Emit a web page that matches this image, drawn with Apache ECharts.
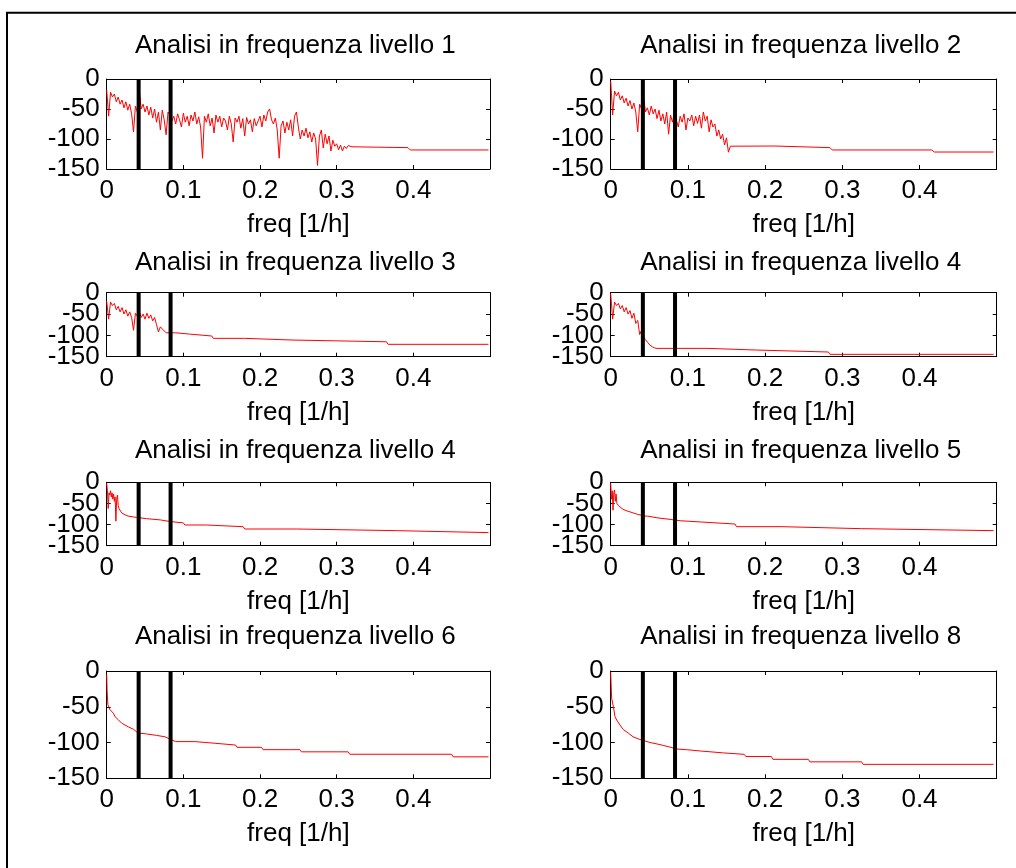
<!DOCTYPE html>
<html><head><meta charset="utf-8">
<script src="https://cdn.jsdelivr.net/npm/echarts@6/dist/echarts.min.js"></script>
<style>html,body{margin:0;padding:0;background:#fff}#c{width:1016px;height:868px}</style>
</head><body><div id="c"></div>
<script>
// ---- data ----
const titles = [
  'Analisi in frequenza livello 1', 'Analisi in frequenza livello 2',
  'Analisi in frequenza livello 3', 'Analisi in frequenza livello 4',
  'Analisi in frequenza livello 4', 'Analisi in frequenza livello 5',
  'Analisi in frequenza livello 6', 'Analisi in frequenza livello 8'
];
const xLabel = 'freq [1/h]';
const xTicks = [0, 0.1, 0.2, 0.3, 0.4];
const yTicks = [0, -50, -100, -150];
const markerFreqs = [1 / 24, 1 / 12];
const df = 0.0025; // frequency resolution of the noisy sections

const lev1Noisy = [-18,-62,-22,-30,-25,-38,-30,-42,-35,-48,-38,-52,-42,-58,-88,-45,-55,-18,-50,-42,
  -55,-45,-60,-47,-65,-50,-72,-55,-85,-52,-68,-93,-55,-60,-70,-62,-75,-58,-68,-80,
  -57,-72,-62,-78,-60,-70,-55,-75,-63,-80,-132,-62,-72,-58,-78,-65,-90,-60,-72,-62,
  -80,-65,-70,-85,-62,-75,-105,-65,-72,-62,-82,-66,-95,-64,-75,-68,-88,-66,-78,-70,
  -62,-80,-60,-70,-55,-50,-68,-75,-65,-85,-132,-78,-70,-90,-72,-85,-68,-95,-62,-55,
  -80,-100,-85,-95,-82,-98,-88,-105,-90,-100,-144,-95,-85,-115,-92,-108,-95,-120,-102,-112,
  -108,-118,-110,-120,-112,-116,-111,-114,-113];
const lev1Tail = [[0.322,-114.4],[0.393,-114.4],[0.396,-118.3],[0.498,-118.3]];

const lev2Noisy = [-3,-60,-20,-28,-22,-35,-28,-40,-32,-45,-36,-50,-40,-55,-88,-42,-50,-28,-55,-48,
  -60,-45,-58,-50,-66,-52,-70,-58,-75,-55,-92,-60,-72,-55,-68,-80,-62,-72,-58,-85,
  -65,-70,-60,-78,-62,-74,-60,-82,-55,-70,-62,-88,-68,-80,-75,-95,-85,-100,-92,-110,
  -98,-122,-112];
const lev2Tail = [[0.156,-111.7],[0.213,-111.7],[0.215,-114.4],[0.284,-114.4],[0.287,-118.3],
  [0.416,-118.3],[0.419,-121.7],[0.496,-121.7]];

const lev3Noisy = [-20,-62,-22,-30,-25,-40,-32,-45,-35,-50,-40,-55,-45,-58,-88,-48,-55,-45,-58,-50,
  -62,-48,-60,-52,-66,-58,-75,-92,-80,-85,-84,-94,-94,-94,-94];
const lev3Tail = [[0.09,-94],[0.092,-97],[0.108,-97],[0.11,-101.5],[0.137,-101.5],[0.139,-107],
  [0.18,-107],[0.182,-111],[0.243,-111],[0.245,-115],[0.365,-115],[0.367,-121],[0.498,-121]];

const lev4aNoisy = [-2,-62,-22,-30,-25,-38,-30,-45,-35,-50,-42,-60,-48,-72,-65,-98,-88,-103];
const lev4aTail = [[0.045,-110],[0.048,-117],[0.051,-123],[0.054,-127],[0.057,-129.5],[0.06,-130.5],
  [0.126,-130.5],[0.128,-134.4],[0.189,-134.4],[0.191,-139],[0.282,-139],[0.284,-144.5],[0.496,-144.5]];

const lev4bPairs = [[0,-2],[0.001,-20],[0.002,-62],[0.003,-25],[0.004,-30],[0.005,-20],[0.006,-35],
  [0.007,-25],[0.008,-40],[0.009,-28],[0.010,-45],[0.011,-35],[0.012,-92],[0.013,-40],[0.014,-30],
  [0.015,-55],[0.016,-62],[0.018,-68],[0.020,-73],[0.024,-77],[0.028,-80],[0.035,-82],[0.039,-83],
  [0.041,-85],[0.052,-86],[0.054,-89],[0.070,-89],[0.072,-93],[0.083,-93],[0.085,-96],[0.1,-96],
  [0.102,-101],[0.130,-101],[0.132,-105],[0.178,-105],[0.180,-110.5],[0.248,-110.5],[0.250,-114.4],
  [0.378,-114.4],[0.380,-119],[0.498,-119]];

const lev5Pairs = [[0,-2],[0.001,-40],[0.002,-20],[0.003,-66],[0.004,-25],[0.005,-18],[0.006,-45],
  [0.007,-28],[0.008,-50],[0.010,-55],[0.012,-59],[0.016,-64],[0.020,-67],[0.025,-70],[0.030,-73],
  [0.035,-76],[0.040,-78],[0.043,-80],[0.048,-80],[0.050,-84],[0.060,-84],[0.062,-88],[0.078,-88],
  [0.080,-91],[0.090,-91],[0.092,-94],[0.118,-94],[0.120,-98.7],[0.161,-98.7],[0.163,-105],
  [0.222,-105],[0.224,-109.7],[0.325,-109.7],[0.327,-114.4],[0.496,-114.4]];

const lev6Pairs = [[0,-5],[0.0005,-26],[0.0015,-47],[0.0043,-54],[0.0087,-59],[0.011,-64],[0.015,-68],
  [0.0196,-73],[0.028,-78],[0.035,-81.5],[0.039,-85],[0.0435,-87],[0.052,-88],[0.054,-90],[0.065,-90],
  [0.067,-92],[0.076,-92],[0.078,-94.5],[0.085,-96.4],[0.09,-98.7],[0.115,-98.7],[0.117,-101],
  [0.141,-101],[0.143,-103.5],[0.168,-103.5],[0.17,-106.7],[0.202,-106.7],[0.204,-110],[0.252,-110],
  [0.254,-113],[0.315,-113],[0.317,-116.4],[0.45,-116.4],[0.452,-120],[0.498,-120]];

const lev8Pairs = [[0,-2],[0.0012,-38],[0.0035,-50],[0.0056,-64],[0.0078,-68.5],[0.012,-75.5],
  [0.0164,-82],[0.023,-87],[0.029,-92],[0.036,-95],[0.042,-97],[0.051,-100],[0.06,-102],[0.068,-104],
  [0.077,-106.5],[0.085,-109],[0.098,-110],[0.1,-112],[0.118,-112],[0.12,-114.5],[0.146,-114.5],
  [0.148,-116.5],[0.173,-116.5],[0.175,-119.5],[0.208,-119.5],[0.21,-123.5],[0.256,-123.5],
  [0.258,-127],[0.325,-127],[0.327,-130.5],[0.496,-130.5]];

// ---- build ----
function fromNoisy(noisy, tail) {
  return noisy.map((v, i) => [i * df, v]).concat(tail);
}
const panelData = [
  fromNoisy(lev1Noisy, lev1Tail), fromNoisy(lev2Noisy, lev2Tail),
  fromNoisy(lev3Noisy, lev3Tail), fromNoisy(lev4aNoisy, lev4aTail),
  lev4bPairs, lev5Pairs, lev6Pairs, lev8Pairs
];

const FONT = '"Liberation Sans", Arial, Helvetica, sans-serif';
const FS = 26;
const colLeft = [106.7, 610.7];
const colWidth = [383.3, 386];
const rowTop = [79, 292.7, 482.3, 671];
const rowHeight = [90, 64, 63.4, 107.3];
const titleCenterY = [46.2, 263, 450.5, 637];

const grids = [], xAxes = [], yAxes = [], series = [], titleArr = [];
const yMin = yTicks[yTicks.length - 1], yMax = yTicks[0];
const isTick = (arr, v) => arr.some(t => Math.abs(t - v) < 1e-9);
// y labels split between two overlaid axes so tightly packed rows keep every label
const yLabelSets = [[0, -100], [-50, -150]];

panelData.forEach((data, i) => {
  const r = Math.floor(i / 2), c = i % 2;
  grids.push({ left: colLeft[c], top: rowTop[r], width: colWidth[c], height: rowHeight[r],
    show: false, containLabel: false });
  const lineStyle = { color: '#000', width: 1 };
  const baseX = { gridIndex: i, type: 'value', min: 0, max: 0.5, interval: 0.1,
    splitLine: { show: false }, axisLine: { show: true, onZero: false, lineStyle } };
  xAxes.push(Object.assign({}, baseX, {
    position: 'bottom',
    axisTick: { show: true, inside: true, length: 4, lineStyle },
    axisLabel: { show: true, margin: 9, color: '#000', fontSize: FS, fontFamily: FONT,
      showMinLabel: true, showMaxLabel: false, hideOverlap: false,
      formatter: v => (isTick(xTicks, v) ? String(+v.toFixed(1)) : '') },
    name: xLabel, nameLocation: 'middle', nameGap: 43,
    nameTextStyle: { color: '#000', fontSize: FS, fontFamily: FONT }
  }));
  xAxes.push(Object.assign({}, baseX, {
    position: 'top',
    axisTick: { show: true, inside: true, length: 4, lineStyle },
    axisLabel: { show: false }
  }));
  const baseY = { gridIndex: i, type: 'value', min: yMin, max: yMax,
    interval: 50, splitLine: { show: false },
    axisLine: { show: true, onZero: false, lineStyle } };
  const yBase = yAxes.length;
  yLabelSets.forEach((set, k) => {
    yAxes.push(Object.assign({}, baseY, {
      position: 'left',
      axisLine: { show: k === 0, onZero: false, lineStyle },
      axisTick: { show: k === 0, inside: true, length: 4, lineStyle },
      axisLabel: { show: true, margin: 7, color: '#000', fontSize: FS, fontFamily: FONT,
        showMinLabel: true, showMaxLabel: true, hideOverlap: false,
        formatter: v => (isTick(set, v) ? String(v) : '') }
    }));
  });
  yAxes.push(Object.assign({}, baseY, {
    position: 'right',
    axisTick: { show: true, inside: true, length: 4, lineStyle },
    axisLabel: { show: false }
  }));
  series.push({ type: 'line', xAxisIndex: 2 * i, yAxisIndex: yBase, data: data,
    showSymbol: false, symbol: 'none', lineStyle: { color: '#ff0000', width: 1 }, z: 2,
    silent: true, animation: false });
  markerFreqs.forEach(f => {
    series.push({ type: 'line', xAxisIndex: 2 * i, yAxisIndex: yBase,
      data: [[f, yMax], [f, yMin]],
      symbol: 'none', lineStyle: { color: '#000', width: 4 }, z: 3, silent: true, animation: false });
  });
  titleArr.push({ text: titles[i], left: colLeft[c] + colWidth[c] / 2 - 3, top: titleCenterY[r] - 13,
    textAlign: 'center', padding: 0,
    textStyle: { color: '#000', fontSize: FS, fontWeight: 'normal', fontFamily: FONT } });
});

const chart = echarts.init(document.getElementById('c'), null, { renderer: 'canvas' });
chart.setOption({
  animation: false,
  backgroundColor: '#fff',
  title: titleArr,
  grid: grids,
  xAxis: xAxes,
  yAxis: yAxes,
  series: series,
  graphic: [{ type: 'polyline', shape: { points: [[7, 870], [7, 12.8], [1020, 12.8]] },
    style: { stroke: '#000', lineWidth: 2, fill: null }, silent: true }]
});
</script></body></html>
